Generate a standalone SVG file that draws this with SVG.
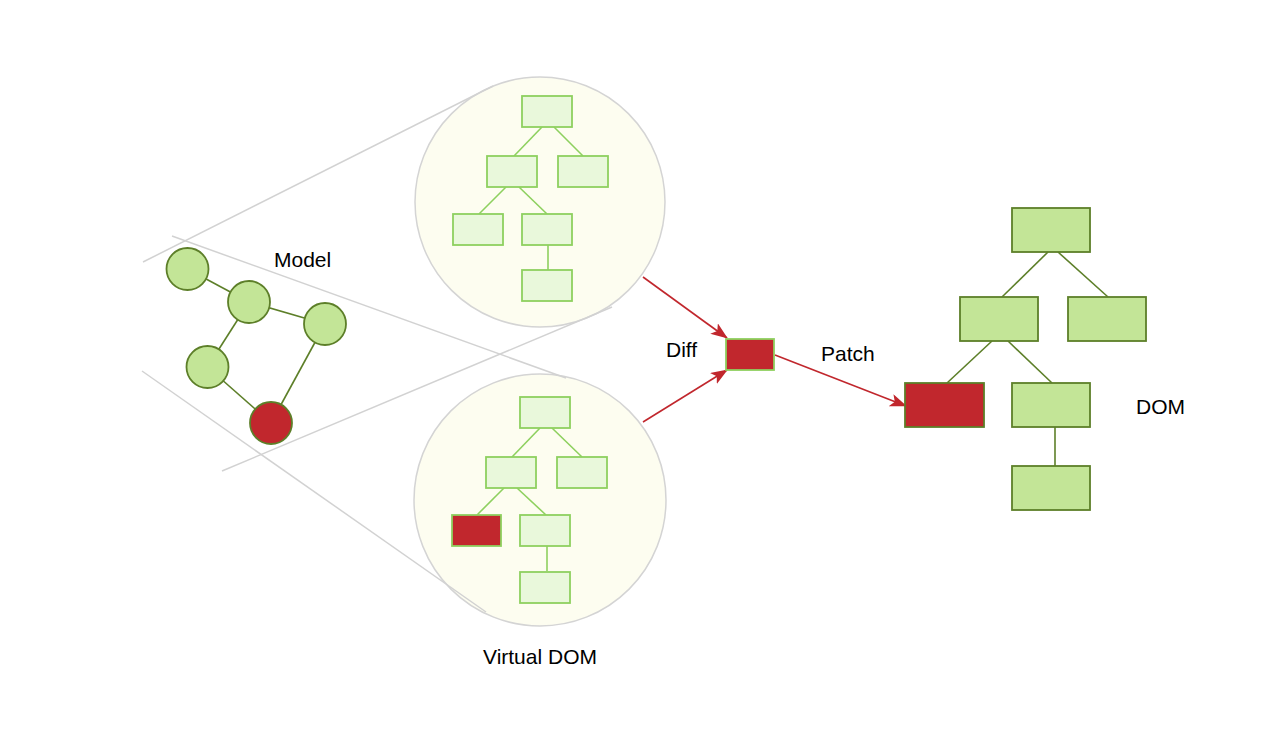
<svg xmlns="http://www.w3.org/2000/svg" width="1284" height="752" viewBox="0 0 1284 752">
<defs>
<style>
.guide{stroke:#d2d2d2;stroke-width:1.5;fill:none}
.lens{fill:#fdfdf0;stroke:#d4d4d4;stroke-width:1.5}
.vbox{fill:#e9f8db;stroke:#8ed05f;stroke-width:1.8}
.vred{fill:#c1272d;stroke:#8ed05f;stroke-width:1.8}
.vedge{stroke:#8ed05f;stroke-width:1.6;fill:none}
.dbox{fill:#c3e597;stroke:#5d7f29;stroke-width:1.8}
.dred{fill:#c1272d;stroke:#5d7f29;stroke-width:1.8}
.dedge{stroke:#5d7f29;stroke-width:1.6;fill:none}
.mnode{fill:#c3e597;stroke:#5d7f29;stroke-width:1.8}
.mred{fill:#c1272d;stroke:#5d7f29;stroke-width:1.8}
.arrow{stroke:#c1272d;stroke-width:1.6;fill:none;marker-end:url(#ah)}
.lbl{font-family:"Liberation Sans",Arial,sans-serif;font-size:21px;fill:#000}
</style>
<marker id="ah" markerWidth="17" markerHeight="13" refX="16" refY="6.5" orient="auto" markerUnits="userSpaceOnUse">
<path d="M0,0 L17,6.5 L0,13 L4,6.5 Z" fill="#c1272d"/>
</marker>
</defs>
<rect width="1284" height="752" fill="#ffffff"/>

<g id="model">
<g id="model-edges">
<line class="dedge" x1="187.5" y1="269" x2="249" y2="302"/>
<line class="dedge" x1="249" y1="302" x2="325" y2="324"/>
<line class="dedge" x1="249" y1="302" x2="207.5" y2="367"/>
<line class="dedge" x1="207.5" y1="367" x2="271" y2="423"/>
<line class="dedge" x1="325" y1="324" x2="271" y2="423"/>
</g>
<circle id="m1" class="mnode" cx="187.5" cy="269" r="21"/>
<circle id="m2" class="mnode" cx="249" cy="302" r="21"/>
<circle id="m3" class="mnode" cx="325" cy="324" r="21"/>
<circle id="m4" class="mnode" cx="207.5" cy="367" r="21"/>
<circle id="m5" class="mred" cx="271" cy="423" r="21"/>
<text class="lbl" x="274" y="267">Model</text>
</g>

<g id="vdom-old">
<circle class="lens" cx="540" cy="202" r="125"/>
<line class="vedge" x1="542" y1="127" x2="514" y2="156"/>
<line class="vedge" x1="554" y1="127" x2="583" y2="156"/>
<line class="vedge" x1="506" y1="187" x2="479" y2="214"/>
<line class="vedge" x1="519" y1="187" x2="547" y2="214"/>
<line class="vedge" x1="548" y1="245" x2="548" y2="270"/>
<rect class="vbox" x="522" y="96" width="50" height="31"/>
<rect class="vbox" x="487" y="156" width="50" height="31"/>
<rect class="vbox" x="558" y="156" width="50" height="31"/>
<rect class="vbox" x="453" y="214" width="50" height="31"/>
<rect class="vbox" x="522" y="214" width="50" height="31"/>
<rect class="vbox" x="522" y="270" width="50" height="31"/>
</g>

<g id="vdom-new">
<circle class="lens" cx="540" cy="500" r="126"/>
<line class="vedge" x1="540" y1="428" x2="512" y2="457"/>
<line class="vedge" x1="552" y1="428" x2="582" y2="457"/>
<line class="vedge" x1="504" y1="488" x2="477" y2="515"/>
<line class="vedge" x1="517" y1="488" x2="546" y2="515"/>
<line class="vedge" x1="547" y1="546" x2="547" y2="571"/>
<rect class="vbox" x="520" y="397" width="50" height="31"/>
<rect class="vbox" x="486" y="457" width="50" height="31"/>
<rect class="vbox" x="557" y="457" width="50" height="31"/>
<rect class="vred" x="452" y="515" width="49" height="31"/>
<rect class="vbox" x="520" y="515" width="50" height="31"/>
<rect class="vbox" x="520" y="572" width="50" height="31"/>
<text class="lbl" x="483" y="664">Virtual DOM</text>
</g>

<g id="guides">
<line class="guide" x1="143" y1="262" x2="493" y2="86"/>
<line class="guide" x1="222" y1="471" x2="612" y2="307"/>
<line class="guide" x1="172" y1="236" x2="566" y2="378"/>
<line class="guide" x1="142" y1="371" x2="486" y2="612"/>
</g>

<g id="connectors">
<line class="arrow" x1="643" y1="277" x2="727" y2="338"/>
<line class="arrow" x1="643" y1="422" x2="727" y2="370"/>
<line class="arrow" x1="775" y1="355" x2="906" y2="406"/>
</g>

<g id="diff">
<rect class="vred" x="726" y="339" width="48" height="31"/>
<text class="lbl" x="666" y="357">Diff</text>
</g>
<text id="patch-label" class="lbl" x="821" y="361">Patch</text>

<g id="dom">
<line class="dedge" x1="1048" y1="252" x2="1002" y2="297"/>
<line class="dedge" x1="1058" y1="252" x2="1108" y2="297"/>
<line class="dedge" x1="992" y1="341" x2="947" y2="383"/>
<line class="dedge" x1="1008" y1="341" x2="1052" y2="383"/>
<line class="dedge" x1="1055" y1="427" x2="1055" y2="466"/>
<rect class="dbox" x="1012" y="208" width="78" height="44"/>
<rect class="dbox" x="960" y="297" width="78" height="44"/>
<rect class="dbox" x="1068" y="297" width="78" height="44"/>
<rect class="dred" x="905" y="383" width="79" height="44"/>
<rect class="dbox" x="1012" y="383" width="78" height="44"/>
<rect class="dbox" x="1012" y="466" width="78" height="44"/>
<text class="lbl" x="1136" y="414">DOM</text>
</g>
</svg>
